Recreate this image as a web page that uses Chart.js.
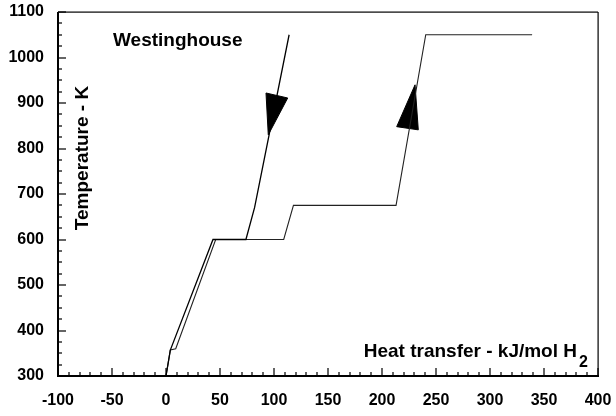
<!DOCTYPE html>
<html>
<head>
<meta charset="utf-8">
<script src="https://cdn.jsdelivr.net/npm/chart.js@4"></script>
<style>
  body { margin: 0; background: #fff; }
  canvas { display: block; }
</style>
</head>
<body>
<canvas id="chart" width="616" height="416"></canvas>
<script>
// heat transfer (kJ/mol H2) and temperature (K), cooling leg, top to bottom
const coolingQ = [114, 82, 74, 43.5, 4, 0];
const coolingT = [1050, 670, 600, 600, 357, 300];

// heating leg, bottom to top
const heatingQ = [0, 4, 9, 46, 109, 118, 213, 240.5, 339];
const heatingT = [300, 357, 360, 600, 600, 675, 675, 1050, 1050];

// arrow heads, as triangles in data units
const arrowDownQ = [92.6, 112.7, 94.7, 92.6];
const arrowDownT = [922, 911, 830, 922];
const arrowUpQ = [213.6, 233.6, 230.6, 213.6];
const arrowUpT = [848, 841, 940, 848];

const xTicks = [-100, -50, 0, 50, 100, 150, 200, 250, 300, 350, 400];
const yTicks = [300, 400, 500, 600, 700, 800, 900, 1000, 1100];

const FONT = "'Liberation Sans', Arial, sans-serif";

function toPoints(qs, ts) {
    return qs.map((q, i) => ({ x: q, y: ts[i] }));
}

// frame, inward ticks and the free text labels
const frameAndLabels = {
    id: "frameAndLabels",
    afterDraw(chart) {
        const c = chart.ctx;
        const a = chart.chartArea;
        const x = chart.scales.x;
        const y = chart.scales.y;
        c.save();
        c.setLineDash([]);
        c.globalAlpha = 1;
        c.globalCompositeOperation = "source-over";
        c.fillStyle = "#000";

        // frame as filled bars: heavier left/bottom, thin top/right
        c.fillRect(a.left - 1, a.top, 2, a.bottom - a.top + 1);
        c.fillRect(a.left - 1, a.bottom - 1, a.right - a.left + 2, 2);
        c.fillRect(a.left, a.top - 0.5, a.right - a.left, 1.2);
        c.fillRect(a.right - 0.5, a.top, 1.2, a.bottom - a.top);

        // minor + major ticks, pointing inward
        for (let v = xTicks[0]; v <= xTicks[xTicks.length - 1]; v += 10) {
            const px = Math.round(x.getPixelForValue(v));
            const len = v % 50 === 0 ? 8 : 4;
            c.fillRect(px - 0.6, a.bottom - len, 1.2, len);
        }
        for (let v = yTicks[0]; v <= yTicks[yTicks.length - 1]; v += 25) {
            const py = Math.round(y.getPixelForValue(v));
            const len = v % 100 === 0 ? 8 : 4;
            c.fillRect(a.left, py - 0.6, len, 1.2);
        }

        // texts
        c.font = "bold 19px " + FONT;
        c.textBaseline = "alphabetic";
        c.textAlign = "left";
        c.fillText("Westinghouse", a.left + 55, a.top + 34);

        c.save();
        c.translate(a.left + 30, a.top + 146);
        c.rotate(-Math.PI / 2);
        c.textAlign = "center";
        c.fillText("Temperature - K", 0, 0);
        c.restore();

        c.textAlign = "right";
        c.fillText("Heat transfer - kJ/mol H", a.right - 21, a.bottom - 19);
        c.font = "bold 16px " + FONT;
        c.textAlign = "left";
        c.fillText("2", a.right - 19, a.bottom - 9);
        c.restore();
    }
};

const tickFont = { family: FONT, size: 16, weight: "bold" };

const ctx = document.getElementById("chart").getContext("2d");
new Chart(ctx, {
    type: "scatter",
    data: {
        datasets: [
            {
                label: "cooling",
                data: toPoints(coolingQ, coolingT),
                showLine: true,
                borderColor: "#000",
                borderWidth: 1.3,
                pointRadius: 0,
                fill: false
            },
            {
                label: "heating",
                data: toPoints(heatingQ, heatingT),
                showLine: true,
                borderColor: "#222",
                borderWidth: 1.1,
                pointRadius: 0,
                fill: false
            },
            {
                label: "arrow down",
                data: toPoints(arrowDownQ, arrowDownT),
                showLine: true,
                borderColor: "#000",
                backgroundColor: "#000",
                borderWidth: 1,
                pointRadius: 0,
                fill: "shape"
            },
            {
                label: "arrow up",
                data: toPoints(arrowUpQ, arrowUpT),
                showLine: true,
                borderColor: "#000",
                backgroundColor: "#000",
                borderWidth: 1,
                pointRadius: 0,
                fill: "shape"
            }
        ]
    },
    options: {
        responsive: false,
        animation: false,
        events: [],
        layout: { padding: { top: 12, right: 18, left: 0, bottom: 0 } },
        plugins: {
            legend: { display: false },
            tooltip: { enabled: false }
        },
        scales: {
            x: {
                type: "linear",
                min: -100,
                max: 400,
                afterBuildTicks: scale => {
                    scale.ticks = xTicks.map(v => ({ value: v }));
                },
                afterFit: scale => {
                    scale.height = 40;
                    scale.paddingLeft = 0;
                    scale.paddingRight = 0;
                },
                grid: { display: false, drawTicks: false },
                border: { display: false },
                ticks: {
                    color: "#000",
                    padding: 15,
                    maxRotation: 0,
                    font: tickFont,
                    callback: v => String(v)
                }
            },
            y: {
                type: "linear",
                min: 300,
                max: 1100,
                afterBuildTicks: scale => {
                    scale.ticks = yTicks.map(v => ({ value: v }));
                },
                afterFit: scale => {
                    scale.width = 58;
                    scale.paddingTop = 0;
                    scale.paddingBottom = 0;
                },
                grid: { display: false, drawTicks: false },
                border: { display: false },
                ticks: {
                    color: "#000",
                    padding: 14,
                    font: tickFont,
                    callback: v => String(v)
                }
            }
        }
    },
    plugins: [frameAndLabels]
});
</script>
</body>
</html>
